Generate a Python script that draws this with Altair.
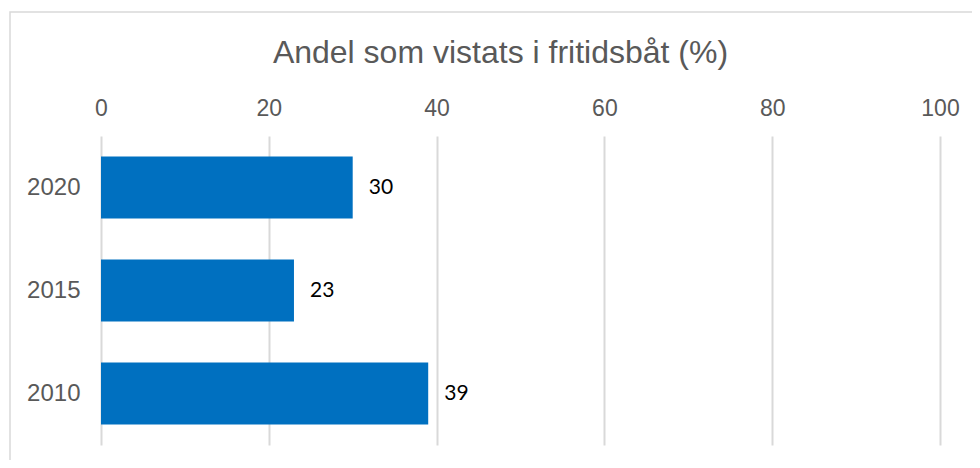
import altair as alt
import pandas as pd

years = ["2020", "2015", "2010"]
values = [30, 23, 39]
x_ticks = [0, 20, 40, 60, 80, 100]
title_text = "Andel som vistats i fritidsbåt (%)"

df = pd.DataFrame({"year": years, "value": values})

GRAY_TXT = "#595959"
GRID = "#d9d9d9"

base = alt.Chart(df)

bars = base.mark_bar(color="#0070C0").encode(
    x=alt.X("value:Q",
            scale=alt.Scale(domain=[0, 100], nice=False),
            axis=alt.Axis(orient="top", values=x_ticks, title=None, grid=True,
                          gridColor=GRID, gridWidth=2, domain=False, ticks=False,
                          labelFlush=False,
                          labelFont="Liberation Sans", labelFontSize=23,
                          labelColor=GRAY_TXT, labelPadding=16)),
    y=alt.Y("year:N", sort=None,
            scale=alt.Scale(paddingInner=0.4, paddingOuter=0.2),
            axis=alt.Axis(title=None, domain=False, ticks=False,
                          labelFont="Liberation Sans", labelFontSize=24,
                          labelColor=GRAY_TXT, labelPadding=21)),
)

labels = base.mark_text(align="left", baseline="middle", dx=16,
                        font="Lato", fontSize=21, color="black").encode(
    x="value:Q",
    y=alt.Y("year:N", sort=None),
    text="value:Q",
)

frame = alt.Chart(pd.DataFrame({"a": [0]})).mark_rect(
    fill=None, stroke=GRID, strokeWidth=1.5
).encode(
    x=alt.value(-91), x2=alt.value(900), y=alt.value(-124), y2=alt.value(360)
)

chart = alt.layer(frame, bars, labels).properties(
    width=839,
    height=309,
    autosize=alt.AutoSizeParams(type="none"),
    padding={"left": 93, "top": 128, "right": 32, "bottom": 15},
    title=alt.TitleParams(title_text, font="Liberation Sans", fontSize=32,
                          fontWeight="normal", color=GRAY_TXT, anchor="middle",
                          frame="group", dx=-20, offset=-59),
).configure_view(stroke=None)

chart.save("out.html", embed_options={"renderer": "svg", "actions": False})
